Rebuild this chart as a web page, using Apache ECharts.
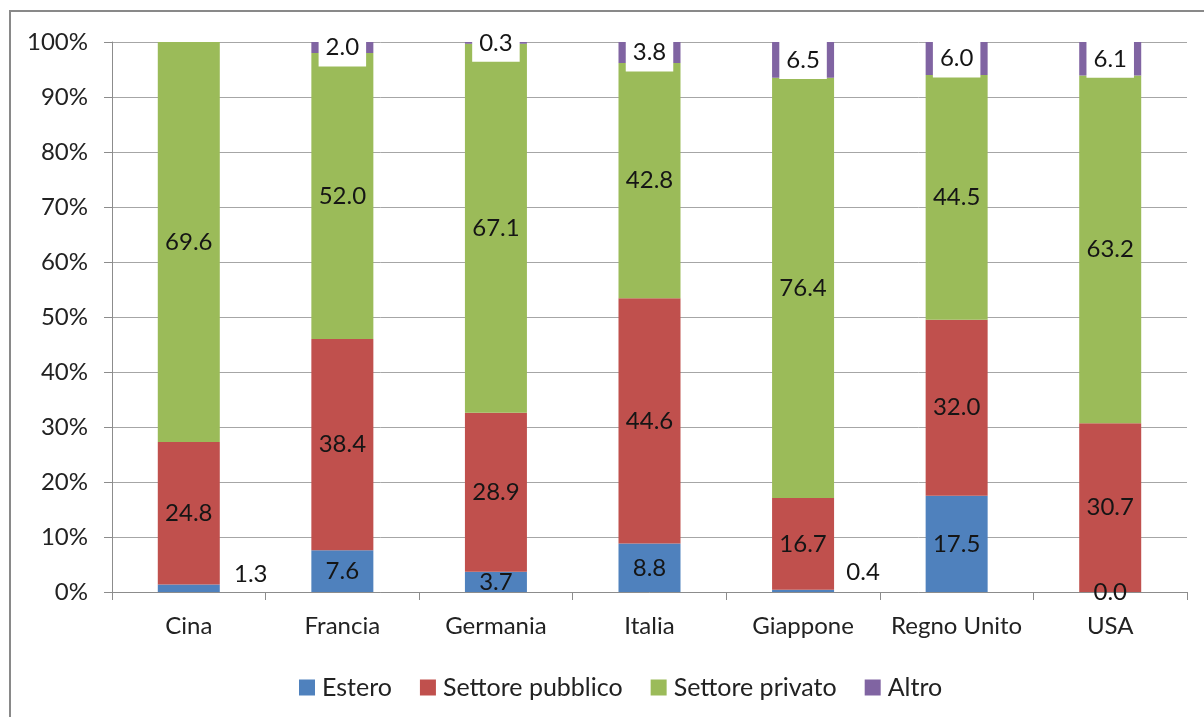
<!DOCTYPE html>
<html>
<head>
<meta charset="utf-8">
<script src="https://cdn.jsdelivr.net/npm/echarts@6/dist/echarts.min.js"></script>
<style>
  html, body { margin: 0; padding: 0; background: #fff; }
  #chart { width: 1204px; height: 717px; }
</style>
</head>
<body>
<div id="chart"></div>
<script>
// Fonti di finanziamento della R&S per paese (quote, valori in %)
const categories = ['Cina', 'Francia', 'Germania', 'Italia', 'Giappone', 'Regno Unito', 'USA'];
const seriesNames = ['Estero', 'Settore pubblico', 'Settore privato', 'Altro'];
const estero   = [1.3, 7.6, 3.7, 8.8, 0.4, 17.5, 0.0];
const pubblico = [24.8, 38.4, 28.9, 44.6, 16.7, 32.0, 30.7];
const privato  = [69.6, 52.0, 67.1, 42.8, 76.4, 44.5, 63.2];
const altro    = [null, 2.0, 0.3, 3.8, 6.5, 6.0, 6.1];
const yTicks   = ['0%', '10%', '20%', '30%', '40%', '50%', '60%', '70%', '80%', '90%', '100%'];

const colors = ['#4F81BD', '#C0504D', '#9BBB59', '#8064A2'];
const FONT = 'Lato';
const FS = 24;
const raw = [estero, pubblico, privato, altro];

// 100% stacked: each bar is the share of the category total
const totals = categories.map((_, i) => raw.reduce((s, arr) => s + (arr[i] || 0), 0));

// labels of tiny segments sit beside the bar
const sideLabel = { 'Estero': { 0: [62, -14], 4: [60, -19] } };

function makeData(name, arr) {
  return arr.map((v, i) => {
    if (v === null) return { value: '-' };
    const item = { value: v / totals[i] * 100, raw: v };
    const off = sideLabel[name] && sideLabel[name][i];
    if (off) item.label = { offset: off };
    return item;
  });
}

const series = seriesNames.map((name, k) => ({
  name: name,
  type: 'bar',
  stack: 'tot',
  barWidth: 62,
  data: makeData(name, raw[k]),
  itemStyle: { color: colors[k] },
  label: {
    show: true,
    position: 'inside',
    color: '#151515',
    fontFamily: FONT,
    fontSize: FS,
    formatter: p => (p.data && p.data.raw !== undefined) ? p.data.raw.toFixed(1) : '',
    ...(name === 'Altro' ? { backgroundColor: '#fff', padding: [7, 7, 7, 7] } : {})
  },
  emphasis: { disabled: true }
}));

const chart = echarts.init(document.getElementById('chart'), null, { renderer: 'canvas' });
chart.setOption({
  animation: false,
  color: colors,
  grid: { left: 112, right: 17, top: 42, bottom: 125 },
  graphic: [{
    type: 'rect',
    shape: { x: 10, y: 11, width: 1400, height: 900 },
    style: { fill: 'none', stroke: '#898989', lineWidth: 2 },
    silent: true, z: -10
  }],
  legend: {
    top: 670,
    left: 294,
    itemWidth: 16,
    itemHeight: 16,
    itemGap: 28,
    icon: 'rect',
    textStyle: { fontFamily: FONT, fontSize: 25, color: '#222', padding: [0, 0, 0, 2] },
    data: seriesNames
  },
  xAxis: {
    type: 'category',
    data: categories,
    axisLine: { lineStyle: { color: '#8c8c8c', width: 1 } },
    axisTick: { show: true, length: 8, lineStyle: { color: '#8c8c8c' } },
    axisLabel: { interval: 0, fontFamily: FONT, fontSize: FS, color: '#222', margin: 22 }
  },
  yAxis: {
    type: 'value',
    min: 0,
    max: 100,
    interval: 10,
    axisLine: { show: true, lineStyle: { color: '#8c8c8c', width: 1 } },
    axisTick: { show: true, length: 8, lineStyle: { color: '#8c8c8c' } },
    splitLine: { show: true, lineStyle: { color: '#a6a6a6', width: 1 } },
    axisLabel: {
      fontFamily: FONT, fontSize: FS, color: '#222', margin: 24,
      formatter: v => yTicks[Math.round(v / 10)]
    }
  },
  series: series
});
</script>
</body>
</html>
